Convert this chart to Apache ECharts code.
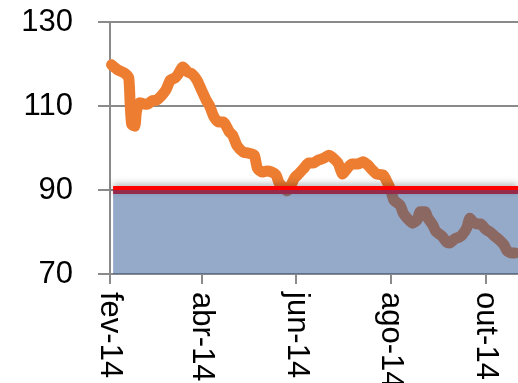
<!DOCTYPE html>
<html>
<head>
<meta charset="utf-8">
<script src="https://cdn.jsdelivr.net/npm/echarts@6/dist/echarts.min.js"></script>
<style>
  html, body { margin: 0; padding: 0; background: #fff; }
  #chart { width: 518px; height: 383px; }
</style>
</head>
<body>
<div id="chart"></div>
<script>
// Daily index readings, Feb–Oct 2014
const lineDates = [
  '2014-02-02','2014-02-06','2014-02-10','2014-02-13','2014-02-14','2014-02-15','2014-02-17',
  '2014-02-18','2014-02-20','2014-02-22','2014-02-25','2014-02-28','2014-03-03','2014-03-06','2014-03-09',
  '2014-03-12','2014-03-15','2014-03-17','2014-03-20','2014-03-23','2014-03-26','2014-03-29',
  '2014-04-01','2014-04-04','2014-04-06','2014-04-09','2014-04-12','2014-04-15','2014-04-19',
  '2014-04-21','2014-04-24','2014-04-28','2014-05-01','2014-05-05','2014-05-07','2014-05-10',
  '2014-05-13','2014-05-16','2014-05-19','2014-05-21','2014-05-24','2014-05-26','2014-05-29',
  '2014-05-31','2014-06-03','2014-06-06','2014-06-09','2014-06-12','2014-06-15','2014-06-19',
  '2014-06-22','2014-06-24','2014-06-28','2014-07-01','2014-07-04','2014-07-07','2014-07-11',
  '2014-07-14','2014-07-17','2014-07-20','2014-07-23','2014-07-27','2014-07-29','2014-08-01',
  '2014-08-03','2014-08-07','2014-08-09','2014-08-12','2014-08-15','2014-08-18','2014-08-20',
  '2014-08-23','2014-08-25','2014-08-28','2014-08-30','2014-09-03','2014-09-06','2014-09-08',
  '2014-09-11','2014-09-14','2014-09-16','2014-09-19','2014-09-21','2014-09-23','2014-09-26',
  '2014-09-28','2014-10-01','2014-10-04','2014-10-07','2014-10-10','2014-10-13','2014-10-15',
  '2014-10-18','2014-10-20'
];
const lineValues = [
  119.8,118.6,117.9,116.8,110.5,105.6,105.2,
  108.6,110.8,110.6,110.4,111.2,111.4,112.4,113.8,
  116.2,116.7,117.6,119.3,118.1,117.6,116.2,
  113.8,111.4,110.2,107.4,106.2,106.2,103.8,
  103.1,100.5,99.0,98.8,98.3,95.2,94.3,
  94.5,94.3,93.6,91.7,90.5,89.8,91.4,
  92.9,94.0,95.2,96.4,96.4,97.1,97.6,
  98.3,97.9,96.4,93.8,95.2,96.2,96.2,
  96.7,96.0,94.8,93.8,93.6,92.4,90.0,
  87.6,86.4,84.5,83.1,82.1,82.9,84.8,
  84.8,83.3,81.7,80.2,79.0,77.6,77.4,
  78.3,78.8,79.3,81.0,83.3,82.4,81.9,
  81.9,80.7,80.0,79.0,78.1,76.9,75.5,
  75.0,75.0
];

// Reference band: level and its date span
const refLevel = 90;
const bandDates = ['2014-02-03', '2014-10-22'];

// Month ticks on the date axis
const axisStart = '2014-02-01';
const tickDates = ['2014-02-01','2014-04-01','2014-06-01','2014-08-01','2014-10-01'];
const tickLabels = ['fev-14','abr-14','jun-14','ago-14','out-14'];

// Value axis
const yMin = 70, yMax = 130, yStep = 20;

// Dates are placed on a day-count axis measured from axisStart
const DAY = 86400000;
function toDay(s) {
  const p = s.split('-').map(Number);
  const q = axisStart.split('-').map(Number);
  return Math.round((Date.UTC(p[0], p[1] - 1, p[2]) - Date.UTC(q[0], q[1] - 1, q[2])) / DAY);
}

const tickDays = tickDates.map(toDay);
const lineData = lineDates.map((d, i) => [toDay(d), lineValues[i]]);
const bandData = bandDates.map(d => [toDay(d), refLevel]);

const axisGray = '#8a8a8a';
const fontFamily = '"Liberation Sans", Arial, sans-serif';

const chart = echarts.init(document.getElementById('chart'), null, { renderer: 'canvas' });
chart.setOption({
  animation: false,
  backgroundColor: '#ffffff',
  grid: { left: 110, right: 0, top: 22, bottom: 109, containLabel: false, outerBoundsMode: 'none' },
  xAxis: {
    type: 'value',
    min: 0,
    max: toDay(bandDates[1]),
    axisLine: { show: true, onZero: false, lineStyle: { color: axisGray, width: 2 } },
    axisTick: { show: true, customValues: tickDays, length: 10, lineStyle: { color: axisGray, width: 2 } },
    splitLine: { show: false },
    axisLabel: {
      customValues: tickDays,
      rotate: -90,
      margin: 18,
      color: '#000',
      fontSize: 31,
      fontFamily: fontFamily,
      formatter: function (v) {
        const i = tickDays.indexOf(Math.round(v));
        return i >= 0 ? tickLabels[i] : '';
      }
    }
  },
  yAxis: {
    type: 'value',
    min: yMin,
    max: yMax,
    interval: yStep,
    axisLine: { show: true, onZero: false, lineStyle: { color: axisGray, width: 2 } },
    axisTick: { show: true, length: 12, lineStyle: { color: axisGray, width: 2 } },
    splitLine: { show: true, lineStyle: { color: axisGray, width: 2 } },
    axisLabel: { margin: 37, color: '#000', fontSize: 31, fontFamily: fontFamily }
  },
  series: [
    {
      name: 'Índice',
      type: 'line',
      z: 2,
      data: lineData,
      symbol: 'none',
      smooth: 0.2,
      lineStyle: { color: '#ED7D31', width: 11, cap: 'round', join: 'round' }
    },
    {
      name: 'Nível',
      type: 'line',
      z: 3,
      data: bandData,
      symbol: 'none',
      lineStyle: {
        color: '#ff0000', width: 8,
        shadowColor: 'rgba(0,0,0,0.3)', shadowBlur: 7, shadowOffsetY: -2
      }
    },
    {
      name: 'Faixa',
      type: 'line',
      z: 4,
      data: bandData,
      symbol: 'none',
      lineStyle: { width: 0, opacity: 0 },
      areaStyle: { color: 'rgba(44,84,148,0.5)', opacity: 1, origin: 'start' }
    }
  ]
});
</script>
</body>
</html>
